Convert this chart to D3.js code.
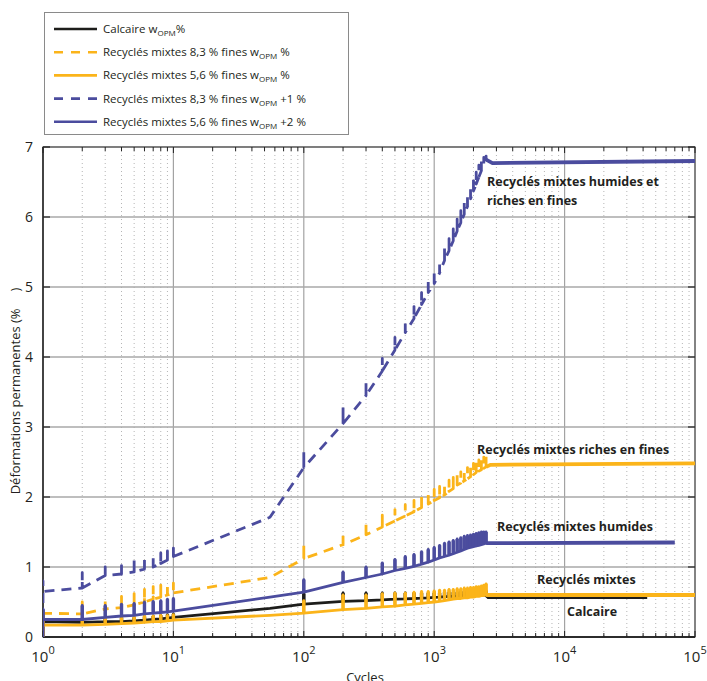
<!DOCTYPE html>
<meta charset="utf-8">
<style>
body { margin: 0; background: #fff; }
svg text { font-family: "Open Sans", sans-serif; fill: #231f20; }
.lbl { font-weight: bold; font-size: 12.5px; }
</style>
<script src="https://d3js.org/d3.v7.min.js"></script>
<svg id="chart" width="707" height="681"></svg>
<script>
// sampled cycles (spikes drawn at each one)
var cycles = [1,2,3,4,5,6,7,8,9,10,55,
  100,200,300,400,500,600,700,800,900,1000,1100,1200,1300,1400,1500,
  1600,1700,1800,1900,2000,2100,2200,2300,2400,2500];

// Calcaire w_OPM
var calcLo = [0.22,0.21,0.22,0.22,0.23,0.24,0.25,0.26,0.27,0.28,0.41,
  0.47,0.51,0.52,0.53,0.54,0.545,0.55,0.555,0.56,0.565,0.57,0.575,0.58,0.58,0.585,
  0.59,0.59,0.595,0.6,0.6,0.6,0.6,0.6,0.6,0.6];
var calcHi = [0.3,0.27,0.27,0.28,0.28,0.29,0.3,0.31,0.32,0.33,0.41,
  0.62,0.63,0.63,0.63,0.63,0.63,0.63,0.63,0.63,0.63,0.63,0.64,0.64,0.64,0.64,
  0.65,0.65,0.65,0.65,0.65,0.66,0.66,0.66,0.66,0.66];
var calcTail = [[2600,0.57],[43000,0.57]];

// Recycles mixtes 5,6 % fines w_OPM
var y56Lo = [0.17,0.17,0.18,0.19,0.2,0.21,0.22,0.22,0.23,0.24,0.31,
  0.34,0.39,0.41,0.43,0.44,0.46,0.47,0.48,0.49,0.5,0.51,0.52,0.53,0.54,0.55,
  0.55,0.56,0.56,0.57,0.57,0.58,0.58,0.59,0.59,0.6];
var y56Hi = [0.3,0.27,0.28,0.28,0.29,0.3,0.3,0.31,0.31,0.32,0.31,
  0.52,0.6,0.6,0.62,0.63,0.63,0.64,0.65,0.65,0.66,0.67,0.67,0.68,0.68,0.69,
  0.69,0.7,0.7,0.71,0.71,0.72,0.72,0.73,0.74,0.76];
var y56Tail = [[2600,0.6],[100000,0.6]];

// Recycles mixtes 8,3 % fines w_OPM
var y83Lo = [0.34,0.33,0.4,0.42,0.46,0.5,0.54,0.57,0.6,0.63,0.85,
  1.12,1.32,1.46,1.57,1.66,1.73,1.79,1.85,1.9,1.95,1.99,2.03,2.08,2.12,2.17,
  2.2,2.23,2.26,2.29,2.32,2.35,2.37,2.39,2.41,2.43];
var y83Hi = [0.42,0.5,0.55,0.58,0.62,0.68,0.72,0.74,0.76,0.77,0.85,
  1.33,1.48,1.62,1.74,1.82,1.89,1.95,2.01,2.06,2.11,2.15,2.19,2.24,2.28,2.33,
  2.36,2.39,2.42,2.45,2.48,2.51,2.53,2.55,2.57,2.6];
var y83Tail = [[2700,2.46],[100000,2.48]];

// Recycles mixtes 8,3 % fines w_OPM +1 %
var b83Lo = [0.65,0.7,0.88,0.9,0.93,0.97,1.0,1.05,1.1,1.15,1.71,
  2.42,3.05,3.45,3.8,4.1,4.35,4.55,4.75,4.92,5.05,5.2,5.38,5.52,5.66,5.8,
  5.92,6.04,6.15,6.26,6.37,6.47,6.57,6.66,6.75,6.82];
var b83Hi = [0.8,0.92,1.0,1.02,1.1,1.12,1.16,1.2,1.23,1.27,1.71,
  2.65,3.28,3.65,3.98,4.28,4.52,4.72,4.92,5.09,5.22,5.37,5.55,5.69,5.83,5.97,
  6.09,6.21,6.32,6.43,6.54,6.64,6.74,6.8,6.85,6.87];
var b83Tail = [[2800,6.77],[100000,6.8]];

// Recycles mixtes 5,6 % fines w_OPM +2 %
var b56Lo = [0.25,0.25,0.28,0.3,0.31,0.33,0.34,0.35,0.36,0.37,0.57,
  0.64,0.78,0.85,0.9,0.95,0.98,1.01,1.04,1.07,1.1,1.13,1.15,1.17,1.19,1.21,
  1.23,1.25,1.27,1.28,1.29,1.3,1.31,1.32,1.33,1.34];
var b56Hi = [0.4,0.45,0.45,0.47,0.48,0.5,0.51,0.52,0.54,0.55,0.57,
  0.82,0.93,1.0,1.06,1.11,1.15,1.18,1.22,1.25,1.28,1.31,1.34,1.36,1.38,1.4,
  1.42,1.44,1.45,1.46,1.47,1.48,1.49,1.5,1.5,1.5];
var b56Tail = [[2600,1.34],[70000,1.35]];

var yTicks = [0,1,2,3,4,5,6,7];
var xDecades = [1,10,100,1000,10000,100000];

var blue = "#4b4c9e", yellow = "#fbb41a", black = "#1d1d1b";

var series = [
  {name: "y83", lo: y83Lo, hi: y83Hi, tail: y83Tail, color: yellow, dash: "10,7"},
  {name: "b83", lo: b83Lo, hi: b83Hi, tail: b83Tail, color: blue, dash: "10,7"},
  {name: "calc", lo: calcLo, hi: calcHi, tail: calcTail, color: black, dash: null},
  {name: "y56", lo: y56Lo, hi: y56Hi, tail: y56Tail, color: yellow, dash: null},
  {name: "b56", lo: b56Lo, hi: b56Hi, tail: b56Tail, color: blue, dash: null}
];

var legendItems = [
  {text: "Calcaire w", sub: "OPM", after: "%", color: black, dash: null},
  {text: "Recyclés mixtes 8,3 % fines w", sub: "OPM", after: " %", color: yellow, dash: "9,8"},
  {text: "Recyclés mixtes 5,6 % fines w", sub: "OPM", after: " %", color: yellow, dash: null},
  {text: "Recyclés mixtes 8,3 % fines w", sub: "OPM", after: " +1 %", color: blue, dash: "9,8"},
  {text: "Recyclés mixtes 5,6 % fines w", sub: "OPM", after: " +2 %", color: blue, dash: null}
];

var svg = d3.select("#chart");
var pLeft = 43, pRight = 695, pTop = 147, pBottom = 637;

var x = d3.scaleLog().domain([1, 100000]).range([pLeft, pRight]);
var y = d3.scaleLinear().domain([0, 7]).range([pBottom, pTop]);

// clip
svg.append("clipPath").attr("id", "clip")
  .append("rect").attr("x", pLeft).attr("y", pTop - 4)
  .attr("width", pRight - pLeft).attr("height", pBottom - pTop + 4);

// grid
var minor = x.ticks().filter(function(d) { return xDecades.indexOf(d) < 0; });
var grid = svg.append("g");
grid.selectAll(".minor").data(minor).enter().append("line")
  .attr("x1", d => x(d)).attr("x2", d => x(d))
  .attr("y1", pTop).attr("y2", pBottom)
  .attr("stroke", "#b5b5b5").attr("stroke-width", 1)
  .attr("stroke-dasharray", "1,3");
grid.selectAll(".major").data(xDecades).enter().append("line")
  .attr("x1", d => x(d)).attr("x2", d => x(d))
  .attr("y1", pTop).attr("y2", pBottom)
  .attr("stroke", "#a3a3a3").attr("stroke-width", 1.2);
grid.selectAll(".hgrid").data(yTicks).enter().append("line")
  .attr("x1", pLeft).attr("x2", pRight)
  .attr("y1", d => y(d)).attr("y2", d => y(d))
  .attr("stroke", "#a8a8a8").attr("stroke-width", 1.4);

// box + ticks
var box = svg.append("g");
box.append("rect").attr("x", pLeft).attr("y", pTop)
  .attr("width", pRight - pLeft).attr("height", pBottom - pTop)
  .attr("fill", "none").attr("stroke", "#555").attr("stroke-width", 1.2);
box.append("line").attr("x1", pLeft).attr("x2", pRight).attr("y1", pBottom).attr("y2", pBottom)
  .attr("stroke", "#111").attr("stroke-width", 1.6);
box.append("line").attr("x1", pLeft).attr("x2", pLeft).attr("y1", pTop).attr("y2", pBottom)
  .attr("stroke", "#333").attr("stroke-width", 1.6);

x.ticks().forEach(function(d) {
  var len = xDecades.indexOf(d) >= 0 ? 6 : 4;
  box.append("line").attr("x1", x(d)).attr("x2", x(d))
    .attr("y1", pBottom).attr("y2", pBottom - len).attr("stroke", "#222").attr("stroke-width", 1);
  box.append("line").attr("x1", x(d)).attr("x2", x(d))
    .attr("y1", pTop).attr("y2", pTop + len).attr("stroke", "#222").attr("stroke-width", 1);
});
yTicks.forEach(function(d) {
  box.append("line").attr("x1", pLeft).attr("x2", pLeft + 7)
    .attr("y1", y(d)).attr("y2", y(d)).attr("stroke", "#222").attr("stroke-width", 1.2);
  box.append("line").attr("x1", pRight).attr("x2", pRight - 7)
    .attr("y1", y(d)).attr("y2", y(d)).attr("stroke", "#222").attr("stroke-width", 1.2);
});

// tick labels
svg.append("g").selectAll("text").data(yTicks).enter().append("text")
  .attr("x", 33).attr("y", d => y(d) + 5)
  .attr("text-anchor", "end").attr("font-size", 14).attr("fill", "#333")
  .text(d => d);

var xl = svg.append("g").selectAll("text").data(xDecades).enter().append("text")
  .attr("x", d => x(d)).attr("y", 662)
  .attr("text-anchor", "middle").attr("font-size", 15).attr("fill", "#333");
xl.append("tspan").text("10");
xl.append("tspan").attr("dy", -8).attr("font-size", 11).text((d, i) => i);

svg.append("text").attr("x", 365).attr("y", 682)
  .attr("text-anchor", "middle").attr("font-size", 13).attr("fill", "#333").text("Cycles");

svg.append("text")
  .attr("transform", "translate(20,391) rotate(-90)")
  .attr("text-anchor", "middle").attr("font-size", 13).attr("fill", "#333")
  .style("white-space", "pre")
  .text("Déformations permanentes (%     )");

// series
var line = d3.line().x(d => x(d[0])).y(d => y(d[1]));
var plot = svg.append("g").attr("clip-path", "url(#clip)");

series.forEach(function(s) {
  var pts = [[1, 0]];
  cycles.forEach(function(c, i) {
    pts.push([c, s.lo[i]]);
    if (s.hi[i] > s.lo[i]) { pts.push([c, s.hi[i]]); pts.push([c, s.lo[i]]); }
  });
  var last = pts[pts.length - 1];
  plot.append("path").datum(pts)
    .attr("d", line).attr("fill", "none")
    .attr("stroke", s.color).attr("stroke-width", 2.8)
    .attr("stroke-linejoin", "round")
    .attr("stroke-dasharray", s.dash);
  // spike bars (solid series show them as thick bars)
  if (!s.dash) {
    plot.append("g").selectAll("line")
      .data(cycles.map((c, i) => [c, s.lo[i], s.hi[i]]).filter(d => d[2] > d[1]))
      .enter().append("line")
      .attr("x1", d => x(d[0])).attr("x2", d => x(d[0]))
      .attr("y1", d => y(d[1])).attr("y2", d => y(d[2]))
      .attr("stroke", s.color).attr("stroke-width", 3.4);
  }
  plot.append("path").datum([last].concat(s.tail))
    .attr("d", line).attr("fill", "none")
    .attr("stroke", s.color).attr("stroke-width", 3.8);
});

// annotations
var notes = [
  {t: "Recyclés mixtes humides et", x: 487, y: 186},
  {t: "riches en fines", x: 487, y: 205},
  {t: "Recyclés mixtes riches en fines", x: 477, y: 454},
  {t: "Recyclés mixtes humides", x: 497, y: 531},
  {t: "Recyclés mixtes", x: 537, y: 584},
  {t: "Calcaire", x: 567, y: 616}
];
svg.append("g").selectAll("text").data(notes).enter().append("text")
  .attr("class", "lbl").attr("x", d => d.x).attr("y", d => d.y).text(d => d.t);

// legend
var lg = svg.append("g");
lg.append("rect").attr("x", 44.5).attr("y", 12.5).attr("width", 304).attr("height", 122)
  .attr("fill", "#fff").attr("stroke", "#8a8a8a").attr("stroke-width", 1);
legendItems.forEach(function(it, i) {
  var ly = 29 + i * 23.2;
  lg.append("line").attr("x1", 54).attr("x2", 97).attr("y1", ly).attr("y2", ly)
    .attr("stroke", it.color).attr("stroke-width", 2.6).attr("stroke-dasharray", it.dash);
  var t = lg.append("text").attr("x", 103).attr("y", ly + 4).attr("font-size", 11.5)
    .style("white-space", "pre");
  t.append("tspan").text(it.text);
  t.append("tspan").attr("dy", 3).attr("font-size", 8).text(it.sub);
  t.append("tspan").attr("dy", -3).text(it.after);
});
</script>
